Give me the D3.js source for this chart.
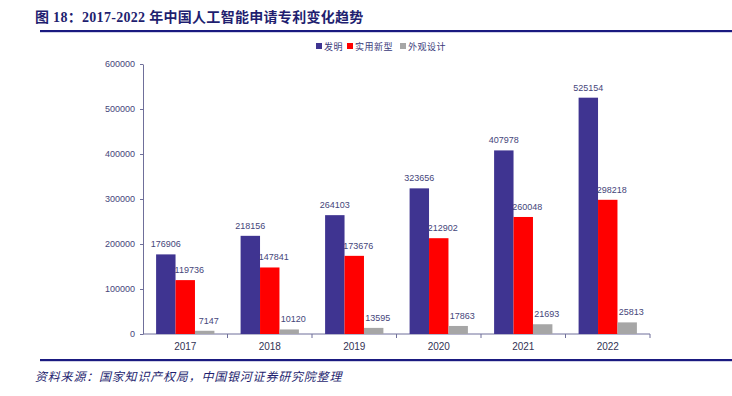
<!DOCTYPE html>
<meta charset="UTF-8">
<html>
<head>
	<title>AI patents 2017-2022</title>
	<script src="https://d3js.org/d3.v7.min.js"></script>
	<style>
		body { margin: 0; background: #fff; }
		svg text { font-family: "Liberation Sans", "Noto Sans CJK SC", sans-serif; }
	</style>
</head>
<body>
	<svg id="chart" width="732" height="396"></svg>

	<script>
		// data
		var years = ["2017", "2018", "2019", "2020", "2021", "2022"];
		var series = ["发明", "实用新型", "外观设计"];
		var invention = [176906, 218156, 264103, 323656, 407978, 525154];
		var utility = [119736, 147841, 173676, 212902, 260048, 298218];
		var design = [7147, 10120, 13595, 17863, 21693, 25813];
		var yTicks = [0, 100000, 200000, 300000, 400000, 500000, 600000];
		var colors = ["#3f3491", "#ff0000", "#a6a6a6"];

		var values = [invention, utility, design];
		var navy = "#1f1f70";
		var svg = d3.select("#chart");

		// title + rules
		svg.append("text")
			.attr("x", 35).attr("y", 22)
			.style("font-family", "'Liberation Serif', 'Noto Sans CJK SC', serif")
			.style("font-size", "14px")
			.style("font-weight", "bold")
			.style("letter-spacing", "0.3px")
			.attr("fill", navy)
			.text("图 18：2017-2022 年中国人工智能申请专利变化趋势");

		svg.append("rect").attr("x", 40).attr("y", 30).attr("width", 692).attr("height", 2.2).attr("fill", "#1a1a80");
		svg.append("rect").attr("x", 40).attr("y", 359).attr("width", 692).attr("height", 2.2).attr("fill", "#1a1a80");

		svg.append("text")
			.attr("x", 35).attr("y", 381)
			.style("font-size", "12px")
			.style("font-style", "italic")
			.style("letter-spacing", "0.8px")
			.attr("fill", navy)
			.text("资料来源：国家知识产权局，中国银河证券研究院整理");

		// scales
		var x = d3.scaleBand()
			.domain(years)
			.range([143, 650])
			.paddingInner(0.31)
			.paddingOuter(0.155);
		var xs = d3.scaleBand()
			.domain(d3.range(series.length))
			.range([0, x.bandwidth()]);
		var y = d3.scaleLinear()
			.domain([0, 600000])
			.range([334, 64]);

		var axisColor = "#6f6f9a";

		// y axis
		var yAxis = svg.append("g")
			.attr("transform", "translate(143,0)")
			.call(d3.axisLeft(y).tickValues(yTicks).tickSize(3).tickSizeOuter(0).tickPadding(5).tickFormat(d3.format("d")));
		yAxis.select(".domain").attr("stroke", axisColor);
		yAxis.selectAll(".tick line").attr("stroke", axisColor);
		yAxis.selectAll(".tick text").attr("fill", "#45457a").style("font-size", "9px");

		// x axis with ticks at band boundaries
		var xAxis = svg.append("g").attr("transform", "translate(0,334)");
		xAxis.append("line")
			.attr("x1", 143).attr("x2", 650)
			.attr("stroke", axisColor);
		var step = x.step();
		xAxis.selectAll(".sep")
			.data(years)
			.enter()
			.append("line")
				.attr("x1", function(d){ return x(d) + x.bandwidth() + (step - x.bandwidth()) / 2; })
				.attr("x2", function(d){ return x(d) + x.bandwidth() + (step - x.bandwidth()) / 2; })
				.attr("y1", 0).attr("y2", 4)
				.attr("stroke", axisColor);
		xAxis.selectAll(".lab")
			.data(years)
			.enter()
			.append("text")
				.attr("x", function(d){ return x(d) + x.bandwidth() / 2; })
				.attr("y", 16)
				.attr("text-anchor", "middle")
				.attr("fill", "#333355")
				.style("font-size", "10px")
				.text(function(d){ return d; });

		// bars
		values.forEach(function(vals, s){
			var g = svg.append("g");
			g.selectAll("rect")
				.data(vals)
				.enter()
				.append("rect")
					.attr("x", function(d, i){ return x(years[i]) + xs(s); })
					.attr("y", function(d){ return y(d); })
					.attr("width", xs.bandwidth())
					.attr("height", function(d){ return y(0) - y(d); })
					.attr("fill", colors[s]);
			g.selectAll("text")
				.data(vals)
				.enter()
				.append("text")
					.attr("x", function(d, i){ return x(years[i]) + xs(s) + xs.bandwidth() / 2 + (s > 0 ? 4 : 0); })
					.attr("y", function(d){ return y(d) - 7; })
					.attr("text-anchor", "middle")
					.attr("fill", "#45457a")
					.style("font-size", "9px")
					.text(function(d){ return d; });
		});

		// legend
		var legend = svg.append("g");
		var lx = [316, 347, 400];
		series.forEach(function(name, s){
			legend.append("rect")
				.attr("x", lx[s]).attr("y", 43)
				.attr("width", 6).attr("height", 6)
				.attr("fill", colors[s]);
			legend.append("text")
				.attr("x", lx[s] + 8).attr("y", 50)
				.attr("fill", "#3a3a7a")
				.style("font-size", "9px")
				.style("letter-spacing", "0.5px")
				.text(name);
		});
	</script>
</body>
</html>
